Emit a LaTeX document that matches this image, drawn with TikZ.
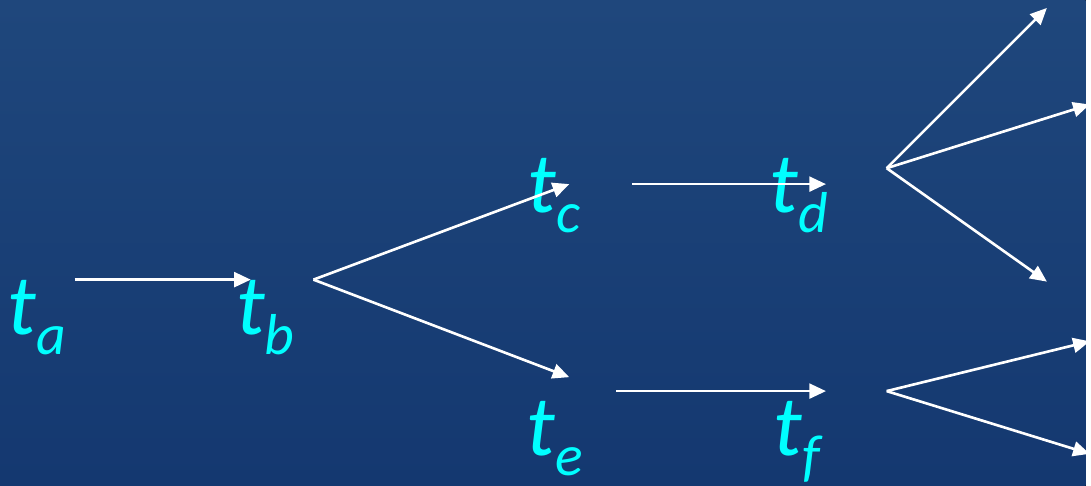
\documentclass[tikz,border=0pt]{standalone}
\usepackage{fontspec}
\setmainfont{Carlito}
\usetikzlibrary{arrows.meta}
\definecolor{bgtop}{RGB}{31,71,124}
\definecolor{bgbot}{RGB}{20,56,112}
\definecolor{tcyan}{RGB}{0,255,255}
\newcommand{\tvar}[1]{t\raisebox{-11.3pt}{\fontsize{33}{33}\selectfont #1}}
\begin{document}
\begin{tikzpicture}[x=0.02cm, y=-0.02cm,
  tnode/.style={anchor=base west, inner sep=0pt, text=tcyan, font=\fontsize{49}{49}\selectfont\itshape},
  link/.style={draw=white, line width=1.5pt, -{Triangle[length=9.5pt,width=8.5pt]}}]
\fill[top color=bgtop, bottom color=bgbot] (0,0) rectangle (1091,488);
\node[tnode] (ta) at (7,336) {\tvar{a}};
\node[tnode] (tb) at (237,336) {\tvar{b}};
\node[tnode] (tc) at (530,214) {\tvar{c}};
\node[tnode] (td) at (773,214) {\tvar{d}};
\node[tnode] (te) at (529,458) {\tvar{e}};
\node[tnode] (tf) at (777,458) {\tvar{f}};
% arrow ends
\coordinate (ab1) at (75,281);
\coordinate (ab2) at (252,281);
\coordinate (bfan) at (315,281);
\coordinate (bc) at (572,185);
\coordinate (be) at (572,379);
\coordinate (cd1) at (635,185);
\coordinate (cd2) at (830,185);
\coordinate (ef1) at (619,393);
\coordinate (ef2) at (830,393);
\coordinate (dfan) at (891,169);
\coordinate (d1) at (1052,8);
\coordinate (d2) at (1095,105);
\coordinate (d3) at (1052,283);
\coordinate (ffan) at (891,393);
\coordinate (f1) at (1095,343);
\coordinate (f2) at (1095,456);
\draw[link] (ab1) -- (ab2);
\draw[link] (bfan) -- (bc);
\draw[link] (bfan) -- (be);
\draw[link] (cd1) -- (cd2);
\draw[link] (ef1) -- (ef2);
\draw[link] (dfan) -- (d1);
\draw[link] (dfan) -- (d2);
\draw[link] (dfan) -- (d3);
\draw[link] (ffan) -- (f1);
\draw[link] (ffan) -- (f2);
\useasboundingbox (0,0) rectangle (1091,488);
\end{tikzpicture}
\end{document}
